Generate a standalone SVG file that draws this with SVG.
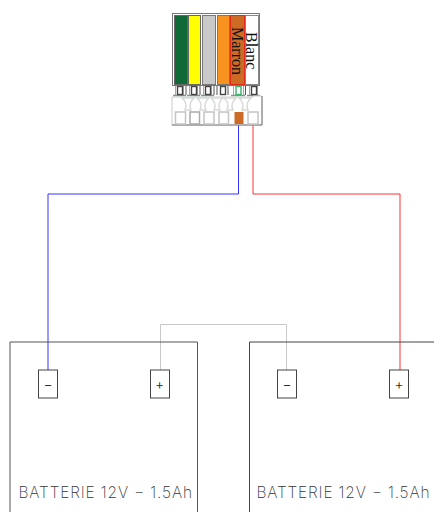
<svg xmlns="http://www.w3.org/2000/svg" width="434" height="512" viewBox="0 0 434 512">
<style>
text{font-family:"Liberation Serif",serif;fill:#111}
.b{fill:none;stroke:#555;stroke-width:1}
.t{fill:#fff;stroke:#444;stroke-width:1}
.pin{fill:#fff;stroke:#444;stroke-width:1.400}
.gp{fill:none;stroke:#8fb8a0;stroke-width:1}
.gb{fill:none;stroke:#6f9f85;stroke-width:1.500}
.w{fill:#fff;stroke:#c4c4c4;stroke-width:1.500}
.fun{fill:none;stroke:#d8d8d8;stroke-width:1.500}
.lab{font-family:"Inter","Roboto",sans-serif;font-weight:200;font-size:15.500px;fill:#333;opacity:.99}
.sgn{font-family:"Inter","Liberation Sans",sans-serif;font-weight:300;font-size:14px;fill:#222;text-anchor:middle;opacity:.99}
</style>
<rect width="434" height="512" fill="#fff"/>
<g id="connectors" fill="none" stroke-width="1">
<path d="M48 370V194H238.500V125" stroke="#00f" stroke-opacity=".8"/>
<path d="M253 125V194H400V370" stroke="#f00" stroke-opacity=".8"/>
<path d="M160.500 370V324.500H286.500V370" stroke="#c8c8c8"/>
</g>
<g id="connector-block">
<rect x="172.500" y="13.500" width="87" height="72" fill="#fff" stroke="#777"/>
<rect x="174.500" y="15.500" width="13" height="69" fill="#0f6a38" stroke="#666"/>
<rect x="188.500" y="15.500" width="12" height="69" fill="#ffff00" stroke="#666"/>
<rect x="202.500" y="15.500" width="13" height="69" fill="#c9c9c9" stroke="#777"/>
<rect x="217.500" y="15.500" width="12" height="69" fill="#f7931e" stroke="#777"/>
<rect x="230.500" y="15.500" width="14" height="69" fill="#cd6a24" stroke="#e02a1a"/>
<rect x="245.500" y="15.500" width="13" height="69" fill="#fff" stroke="#888"/>
<text transform="translate(232 27) rotate(90)" font-size="16">Marron</text>
<text transform="translate(246 32) rotate(90)" font-size="16">Blanc</text>
<g id="pins">
<path class="gp" d="M175.500 96V86M183.500 96V86M189.500 96V86M197.500 96V86M203.500 96V86M211.500 96V86M233.500 96V86M243.500 96V86M249.500 96V86M257.500 96V86"/>
<path class="gb" d="M173 95.500H186M187 95.500H200M201 95.500H214M231 95.500H245M247 95.500H260"/>
<rect x="177.500" y="86.500" width="5" height="8" class="pin"/>
<rect x="191.500" y="86.500" width="5" height="8" class="pin"/>
<rect x="205.500" y="86.500" width="5" height="8" class="pin"/>
<rect x="220.500" y="86.500" width="5" height="8" class="pin"/>
<rect x="236" y="86.500" width="5" height="8" fill="#fff" stroke="#39b36b" stroke-width="1.400"/>
<rect x="251.500" y="86.500" width="5" height="8" class="pin"/>
<path d="M186 86V95M200 86V95M214 86V95M217 86V95M228 86V95M245.500 86V95" stroke="#555" fill="none"/>
</g>
<path d="M172 97H253V96H262V125H172Z" fill="#fff" stroke="#ccc"/>
<path d="M172 125H262V96" fill="none" stroke="#777"/>
<g id="funnels">
<path class="fun" d="M182 98H194Q188 103 191 110H185Q188 103 182 98Z"/>
<path class="fun" d="M197 98H209Q203 103 206 110H200Q203 103 197 98Z"/>
<path class="fun" d="M211 98H223Q217 103 220 110H214Q217 103 211 98Z"/>
<path class="fun" d="M224 98H236Q230 103 233 110H227Q230 103 224 98Z"/>
<path class="fun" d="M239 98H251Q245 103 248 110H242Q245 103 239 98Z"/>
</g>
<rect x="175.500" y="112" width="10" height="12" class="w"/>
<rect x="190" y="112" width="9.500" height="12" fill="#fff" stroke="#aaa" stroke-width="1.500"/>
<rect x="204" y="112" width="10" height="12" class="w"/>
<rect x="219" y="112" width="9.500" height="12" class="w"/>
<rect x="234.500" y="112" width="9" height="12" fill="#cc6a28"/>
<rect x="248" y="112" width="10" height="12" class="w"/>
</g>
<g id="battery-1">
<path class="b" d="M10 512V342H197.500V512"/>
<rect x="38.500" y="370" width="19" height="28" class="t"/>
<text x="48" y="389" class="sgn">−</text>
<rect x="150.500" y="370" width="19" height="28" class="t"/>
<text x="159.500" y="389" class="sgn">+</text>
<text x="18.500" y="498" class="lab" textLength="173.500" lengthAdjust="spacing">BATTERIE 12V − 1.5Ah</text>
</g>
<g id="battery-2">
<path d="M249.500 512V342H434" fill="none" stroke="#444"/>
<rect x="277.500" y="370" width="19" height="28" class="t"/>
<text x="287" y="389" class="sgn">−</text>
<rect x="389.500" y="370" width="19" height="28" class="t"/>
<text x="399" y="389" class="sgn">+</text>
<text x="256.500" y="498" class="lab" textLength="173" lengthAdjust="spacing">BATTERIE 12V − 1.5Ah</text>
</g>
</svg>
